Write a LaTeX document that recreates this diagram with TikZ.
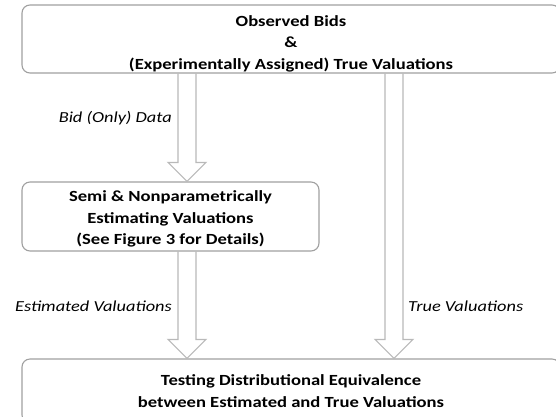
\documentclass[tikz,border=0pt]{standalone}
\usepackage{fontspec}
\setmainfont{Carlito}[FakeStretch=1.2]
\usetikzlibrary{calc}
\definecolor{boxgray}{RGB}{160,160,160}
\definecolor{arrowgray}{RGB}{185,185,185}

\newcommand{\blockdown}[2]{%
  \draw[blockarr] let \p1=(#1), \p2=(#2) in
    (\x1-9pt,\y1) -- (\x1-9pt,\y2+19pt) -- (\x1-19pt,\y2+19pt) -- (\x2,\y2)
    -- (\x1+19pt,\y2+19pt) -- (\x1+9pt,\y2+19pt) -- (\x1+9pt,\y1);}

\begin{document}
\begin{tikzpicture}[x=1pt, y=-1pt]

    \tikzset{stagebox/.style={draw=boxgray, line width=1.1pt, rounded corners=8pt,
                              align=center, font=\fontsize{15.5}{21.5}\selectfont\bfseries,
                              inner sep=0pt}}
    \tikzset{blockarr/.style={draw=arrowgray, line width=1.1pt, line join=miter}}
    \tikzset{flowlabel/.style={font=\fontsize{15.3}{18}\selectfont\itshape, inner sep=0pt}}

    \useasboundingbox (0,0) rectangle (556,416);

    \begin{scope}
    \clip (0,0) rectangle (556,416);
    \node[stagebox, minimum width=538pt, minimum height=68pt] (obs) at (291,39)
        {\rule{0pt}{20pt}Observed Bids\\ \&\\ (Experimentally Assigned) True Valuations};
    \node[stagebox, minimum width=297pt, minimum height=69pt] (est) at (170.5,216.5)
        {\rule{0pt}{16pt}Semi \& Nonparametrically\\ Estimating Valuations\\ (See Figure 3 for Details)};
    \node[stagebox, minimum width=538pt, minimum height=64pt] (test) at (291,391)
        {Testing Distributional Equivalence\\ between Estimated and True Valuations};
    \end{scope}

    % arrow columns
    \coordinate (leftcol) at (187,0);
    \coordinate (rightcol) at (394,0);

    \blockdown{obs.south -| leftcol}{est.north -| leftcol}
    \blockdown{est.south -| leftcol}{test.north -| leftcol}
    \blockdown{obs.south -| rightcol}{test.north -| rightcol}

    \node[flowlabel, anchor=east] (bidlab) at (172,118) {Bid (Only) Data};
    \node[flowlabel, anchor=east] (estlab) at (172,306) {Estimated Valuations};
    \node[flowlabel, anchor=west] (truelab) at (408,306) {True Valuations};

\end{tikzpicture}
\end{document}
